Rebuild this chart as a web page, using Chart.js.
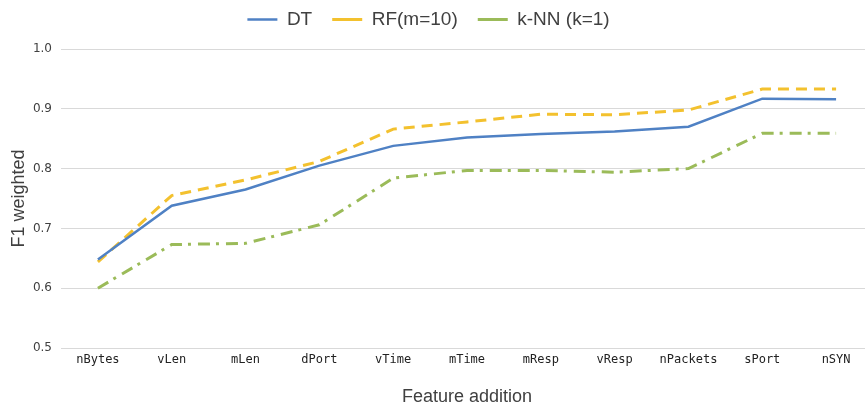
<!DOCTYPE html>
<html>
<head>
<meta charset="utf-8">
<script src="https://cdn.jsdelivr.net/npm/chart.js@4"></script>
<style>
  html, body { margin: 0; padding: 0; background: #fff; overflow: hidden; }
  #wrap { width: 873px; height: 406px; }
</style>
</head>
<body>
<div id="wrap"><canvas id="f1Chart"></canvas></div>
<script>
const features = ['nBytes', 'vLen', 'mLen', 'dPort', 'vTime', 'mTime', 'mResp', 'vResp', 'nPackets', 'sPort', 'nSYN'];
const dtScores = [0.648, 0.738, 0.765, 0.805, 0.838, 0.852, 0.858, 0.862, 0.870, 0.917, 0.916];
const rfScores = [0.644, 0.755, 0.781, 0.812, 0.866, 0.878, 0.891, 0.890, 0.898, 0.933, 0.933];
const knnScores = [0.600, 0.673, 0.675, 0.706, 0.784, 0.797, 0.797, 0.794, 0.800, 0.859, 0.859];
const yTicks = [0.5, 0.6, 0.7, 0.8, 0.9, 1.0];

// extra room under the legend, and nudge it a bit left
const legendTweak = {
    id: 'legendTweak',
    beforeInit(chart) {
        const lg = chart.legend;
        const fit = lg.fit;
        lg.fit = function () {
            fit.call(this);
            this.height += 10;
        };
        const draw = lg.draw;
        lg.draw = function () {
            chart.ctx.save();
            chart.ctx.translate(-8, 0);
            draw.call(this);
            chart.ctx.restore();
        };
    }
};

let ctx = document.getElementById('f1Chart').getContext('2d');
let f1Chart = new Chart(ctx, {
    type: 'line',
    data: {
        labels: features,
        datasets: [
            { label: 'DT', data: dtScores, borderColor: '#4f81c4', backgroundColor: '#4f81c4', borderWidth: 2.5, borderDash: [] },
            { label: 'RF(m=10)', data: rfScores, borderColor: '#f3c12e', backgroundColor: '#f3c12e', borderWidth: 3, borderDash: [11, 7] },
            { label: 'k-NN (k=1)', data: knnScores, borderColor: '#9bbb59', backgroundColor: '#9bbb59', borderWidth: 3, borderDash: [12, 6, 3, 7] }
        ]
    },
    options: {
        responsive: true,
        maintainAspectRatio: false,
        animation: false,
        layout: { padding: { top: -10, left: 0, right: 0, bottom: -2 } },
        elements: { point: { radius: 0 }, line: { tension: 0 } },
        plugins: {
            tooltip: { enabled: false },
            legend: {
                position: 'top',
                labels: {
                    usePointStyle: true,
                    pointStyle: 'line',
                    pointStyleWidth: 30,
                    boxHeight: 8,
                    padding: 20,
                    color: '#404040',
                    font: { family: 'Liberation Sans', size: 19 }
                }
            }
        },
        scales: {
            x: {
                offset: true,
                grid: { display: false },
                border: { display: false },
                ticks: { color: '#222', font: { family: 'DejaVu Sans Mono', size: 12 }, maxRotation: 0, padding: -3 },
                title: { display: true, text: 'Feature addition', color: '#404040', font: { family: 'Liberation Sans', size: 18 }, padding: { top: 22, bottom: 0 } }
            },
            y: {
                min: 0.5,
                max: 1.0,
                afterBuildTicks: axis => { axis.ticks = yTicks.map(v => ({ value: v })); },
                afterFit: axis => { axis.width = 61; },
                grid: { color: '#d9d9d9', lineWidth: 1, drawTicks: false },
                border: { display: false },
                ticks: { color: '#404040', font: { family: 'DejaVu Sans', size: 12 }, padding: 9, callback: v => v.toFixed(1) },
                title: { display: true, text: 'F1 weighted', color: '#404040', font: { family: 'Liberation Sans', size: 18 }, padding: { top: 8, bottom: 0 } }
            }
        }
    },
    plugins: [legendTweak]
});
</script>
</body>
</html>
